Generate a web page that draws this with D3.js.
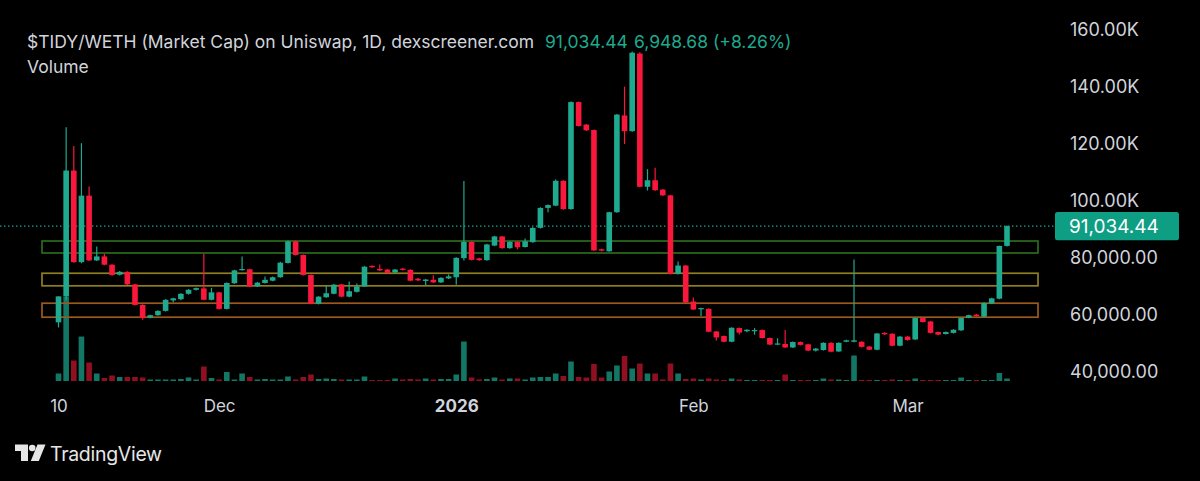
<!DOCTYPE html>
<html>
<head>
<meta charset="utf-8">
<script src="https://cdn.jsdelivr.net/npm/d3@7"></script>
<style>
  html, body { margin: 0; padding: 0; background: #000; }
  svg { display: block; font-family: Inter, "Noto Sans", sans-serif; }
</style>
</head>
<body>
<div id="chart"></div>
<script>
//-- Data (market cap in thousands, one candle per day from 10 Nov 2025) --//
var startDay = new Date(Date.UTC(2025, 10, 10));

var opens = [
  57.3, 66.4, 110.5, 78.4, 101.7, 79.0, 80.4, 77.5, 74.0, 75.0,
  70.6, 63.4, 58.9, 59.8, 61.3, 65.0, 65.4, 67.3, 68.7, 69.2,
  65.2, 67.8, 62.0, 71.0, 75.6, 75.9, 69.9, 71.1, 71.9, 73.1,
  78.1, 85.7, 80.9, 73.9, 63.8, 66.1, 67.3, 70.6, 66.3, 68.0,
  69.9, 77.1, 76.0, 75.8, 74.8, 76.1, 75.7, 72.6, 71.8, 72.2,
  71.3, 72.7, 73.1, 79.8, 85.5, 79.7, 79.1, 84.2, 87.4, 83.3,
  85.5, 83.7, 85.4, 90.4, 97.4, 98.2, 106.9, 97.0, 134.5, 126.6,
  124.7, 82.9, 82.2, 95.9, 129.8, 124.3, 151.5, 104.8, 107.1, 103.8,
  101.8, 74.3, 77.2, 64.6, 61.9, 62.0, 54.1, 52.5, 50.5, 55.3,
  54.2, 54.2, 54.6, 51.8, 49.5, 49.7, 48.5, 50.4, 49.6, 47.4,
  47.6, 50.1, 47.1, 50.5, 50.5, 50.5, 48.8, 47.7, 53.6, 53.3,
  49.1, 52.3, 51.3, 58.8, 57.6, 53.9, 53.2, 53.6, 54.5, 58.9,
  60.0, 59.3, 63.9, 65.6, 84.086
];
var highs = [
  66.4, 125.7, 119.1, 120.1, 104.9, 83.9, 81.3, 77.7, 75.3, 75.2,
  70.8, 63.6, 60.0, 61.5, 65.4, 65.9, 67.5, 69.0, 69.5, 81.3,
  69.4, 68.0, 71.3, 75.7, 80.4, 76.1, 71.4, 73.4, 73.4, 78.5,
  86.0, 86.0, 81.1, 74.1, 66.5, 70.1, 70.7, 70.8, 71.6, 70.9,
  77.0, 77.2, 77.6, 76.0, 76.0, 76.3, 75.9, 72.8, 72.5, 73.8,
  73.1, 74.1, 80.1, 106.8, 85.7, 79.9, 84.8, 87.6, 87.6, 85.7,
  85.7, 86.7, 90.6, 97.6, 98.6, 107.4, 107.1, 134.7, 134.7, 126.8,
  124.9, 83.1, 96.1, 130.3, 139.9, 152.2, 152.0, 111.0, 111.5, 104.0,
  102.0, 78.6, 77.4, 66.0, 62.4, 62.2, 54.3, 52.7, 55.6, 55.5,
  54.9, 55.3, 54.8, 52.0, 51.7, 54.6, 50.6, 50.6, 49.8, 48.3,
  50.3, 50.3, 50.3, 51.2, 79.3, 50.7, 49.0, 53.6, 53.8, 53.5,
  52.5, 52.5, 59.0, 59.0, 57.8, 54.1, 54.1, 54.9, 59.0, 60.0,
  60.2, 64.3, 65.9, 84.1, 91.2
];
var lows = [
  55.5, 65.0, 78.2, 78.0, 78.8, 78.8, 77.3, 73.6, 73.7, 70.4,
  63.2, 58.2, 58.7, 59.6, 61.1, 64.3, 65.0, 67.0, 68.5, 65.0,
  65.0, 61.8, 61.8, 70.8, 75.4, 69.6, 69.7, 70.9, 71.7, 72.9,
  77.9, 80.7, 73.7, 63.6, 63.6, 65.9, 67.1, 66.1, 66.1, 67.8,
  69.7, 76.4, 75.3, 74.4, 74.6, 75.5, 71.7, 71.8, 70.2, 71.1,
  71.1, 72.5, 70.5, 79.0, 79.0, 78.9, 78.9, 84.0, 83.1, 83.1,
  82.9, 83.5, 85.2, 90.2, 95.9, 98.0, 96.8, 96.8, 125.9, 124.4,
  82.3, 82.2, 82.0, 95.7, 119.8, 124.1, 104.6, 103.5, 103.4, 101.6,
  74.1, 74.1, 64.1, 61.6, 59.4, 53.8, 50.9, 50.3, 50.3, 53.0,
  53.8, 53.0, 51.6, 49.3, 49.3, 48.3, 48.3, 49.2, 47.2, 47.1,
  47.4, 46.8, 46.9, 50.3, 50.3, 48.5, 47.5, 47.5, 52.9, 48.9,
  48.9, 50.9, 51.1, 57.2, 53.4, 52.8, 53.0, 53.4, 54.3, 58.7,
  59.3, 59.1, 63.7, 65.4, 83.9
];
var closes = [
  66.4, 110.5, 78.4, 101.7, 79.0, 80.4, 77.5, 73.9, 75.0, 70.6,
  63.4, 58.8, 59.8, 61.3, 65.2, 65.7, 67.3, 68.7, 69.3, 65.2,
  67.8, 62.0, 71.1, 75.5, 76.0, 69.8, 71.2, 72.2, 73.1, 78.2,
  85.7, 80.9, 73.9, 63.8, 66.3, 67.5, 70.5, 66.3, 68.2, 69.9,
  76.8, 76.6, 75.5, 74.6, 75.8, 75.7, 71.9, 72.0, 72.3, 71.3,
  72.9, 73.4, 79.9, 85.5, 79.2, 79.1, 84.6, 87.4, 83.3, 85.5,
  83.6, 85.7, 90.4, 97.4, 98.4, 106.9, 97.0, 134.5, 126.1, 124.6,
  82.5, 82.4, 95.9, 130.1, 124.3, 151.8, 104.8, 107.1, 103.6, 101.8,
  74.3, 77.2, 64.3, 61.8, 62.3, 54.0, 52.0, 50.5, 55.4, 53.7,
  54.7, 54.6, 51.8, 49.5, 49.9, 48.5, 50.4, 49.4, 47.4, 48.1,
  50.1, 47.0, 50.1, 51.0, 51.0, 48.7, 47.7, 53.4, 53.1, 49.1,
  52.3, 51.1, 58.8, 57.4, 53.6, 53.0, 53.9, 54.7, 58.8, 59.8,
  59.5, 64.1, 65.7, 84.086, 91.034
];
var volumes = [
  15, 169, 41, 89, 37, 15, 6, 11, 8, 8,
  8, 7, 3, 3, 3, 3, 4, 7, 3, 29,
  6, 3, 18, 3, 15, 8, 3, 4, 3, 3,
  9, 3, 8, 13, 4, 5, 4, 3, 3, 3,
  9, 2, 2, 2, 5, 3, 4, 3, 5, 3,
  4, 4, 13, 79, 7, 3, 4, 7, 3, 5,
  5, 3, 7, 8, 8, 15, 10, 39, 8, 7,
  34, 7, 19, 31, 50, 25, 35, 15, 15, 3,
  35, 15, 4, 5, 3, 5, 3, 2, 5, 3,
  2, 2, 2, 2, 2, 13, 2, 2, 2, 2,
  5, 3, 3, 2, 51, 2, 2, 2, 2, 3,
  2, 2, 5, 2, 2, 2, 2, 2, 7, 2,
  2, 2, 2, 16, 5
];

// zones drawn on the chart [top, bottom] in thousands
var zoneNames = ["green", "yellow", "orange"];
var zoneTops = [85.8, 74.5, 64.0];
var zoneBottoms = [81.6, 70.1, 59.1];
var zoneColors = ["#2b6b1e", "#8f7f22", "#9a5a1e"];

var yTicks = [40, 60, 80, 100, 120, 140, 160];
var xTickDates = [new Date(Date.UTC(2025, 10, 10)), new Date(Date.UTC(2025, 11, 1)),
                  new Date(Date.UTC(2026, 0, 1)), new Date(Date.UTC(2026, 1, 1)),
                  new Date(Date.UTC(2026, 2, 1))];
var xTickLabels = ["10", "Dec", "2026", "Feb", "Mar"];

var lastPrice = 91034.44, lastChange = "6,948.68 (+8.26%)";

var upColor = "#1fa98e", downColor = "#f9173b",
    upVol = "#137766", downVol = "#900f20",
    textColor = "#d1d4dc";

//-- SVG --//
var width = 1200, height = 481;
var svg = d3.select("#chart").append("svg")
  .attr("width", width)
  .attr("height", height)
  .style("background", "#000");

var days = d3.utcDay.range(startDay, d3.utcDay.offset(startDay, closes.length));
var data = days.map(function(d, i) {
  return {date: d, o: opens[i], h: highs[i], l: lows[i], c: closes[i], v: volumes[i]};
});

//-- Scales --//
var x = d3.scaleUtc()
  .domain([days[0], days[days.length - 1]])
  .range([58.5, 1007]);
var y = d3.scaleLinear().domain([40, 160]).range([371.7, 29.3]);
var yVol = d3.scaleLinear().domain([0, d3.max(volumes)]).range([381, 296.6]);
var bodyW = 5.6;

//-- Volume --//
svg.append("g").selectAll("rect")
  .data(data).enter().append("rect")
  .attr("x", function(d) { return x(d.date) - bodyW / 2; })
  .attr("width", bodyW)
  .attr("y", function(d) { return yVol(d.v); })
  .attr("height", function(d) { return yVol(0) - yVol(d.v); })
  .attr("fill", function(d) { return d.c >= d.o ? upVol : downVol; });

//-- Zones --//
svg.append("g").selectAll("rect")
  .data(zoneNames).enter().append("rect")
  .attr("x", 42)
  .attr("width", 996)
  .attr("y", function(d, i) { return y(zoneTops[i]); })
  .attr("height", function(d, i) { return y(zoneBottoms[i]) - y(zoneTops[i]); })
  .attr("fill", "none")
  .attr("stroke", function(d, i) { return zoneColors[i]; })
  .attr("stroke-width", 1.7);

//-- Last price line --//
svg.append("line")
  .attr("x1", 0).attr("x2", 1055)
  .attr("y1", y(lastPrice / 1000)).attr("y2", y(lastPrice / 1000))
  .attr("stroke", upColor)
  .attr("stroke-width", 1.4)
  .attr("stroke-dasharray", "1.4,2.6");

//-- Candles --//
var candles = svg.append("g").selectAll("g")
  .data(data).enter().append("g");
candles.append("line")
  .attr("x1", function(d) { return x(d.date); })
  .attr("x2", function(d) { return x(d.date); })
  .attr("y1", function(d) { return y(d.h); })
  .attr("y2", function(d) { return y(d.l); })
  .attr("stroke", function(d) { return d.c >= d.o ? upColor : downColor; })
  .attr("stroke-width", 1.2);
candles.append("rect")
  .attr("x", function(d) { return x(d.date) - bodyW / 2; })
  .attr("width", bodyW)
  .attr("y", function(d) { return y(Math.max(d.o, d.c)); })
  .attr("height", function(d) { return Math.max(1.2, Math.abs(y(d.o) - y(d.c))); })
  .attr("fill", function(d) { return d.c >= d.o ? upColor : downColor; });

//-- Axes --//
var fmtK = d3.format(".2f"), fmtFull = d3.format(",.2f");
var yAxis = d3.axisRight(y)
  .tickValues(yTicks)
  .tickSize(0)
  .tickPadding(0)
  .tickFormat(function(v) { return v >= 100 ? fmtK(v) + "K" : fmtFull(v * 1000); });
var gy = svg.append("g")
  .attr("transform", "translate(1070,0)")
  .call(yAxis);
gy.select(".domain").remove();
gy.selectAll("text")
  .attr("fill", textColor)
  .style("font-size", "18px")
  .style("font-family", "Inter, sans-serif");

var xAxis = d3.axisBottom(x)
  .tickValues(xTickDates)
  .tickSize(0)
  .tickPadding(0)
  .tickFormat(function(d, i) { return xTickLabels[i]; });
var gx = svg.append("g")
  .attr("transform", "translate(0,400)")
  .call(xAxis);
gx.select(".domain").remove();
gx.selectAll("text")
  .attr("fill", textColor)
  .style("font-size", "17px")
  .style("font-family", "Inter, sans-serif")
  .style("font-weight", function(d, i) { return xTickLabels[i] === "2026" ? 700 : 400; });

//-- Last price label --//
var py = y(lastPrice / 1000);
svg.append("rect")
  .attr("x", 1055).attr("y", py - 14.2)
  .attr("width", 124).attr("height", 28.4)
  .attr("rx", 2.5)
  .attr("fill", "#0e9e83");
svg.append("text")
  .attr("x", 1069).attr("y", py)
  .attr("dy", "0.35em")
  .attr("fill", "#fff")
  .style("font-size", "19px")
  .text(fmtFull(lastPrice));

//-- Header --//
svg.append("text")
  .attr("x", 27).attr("y", 48.3)
  .attr("fill", textColor)
  .style("font-size", "17.5px")
  .text("$TIDY/WETH (Market Cap) on Uniswap, 1D, dexscreener.com");
svg.append("text")
  .attr("x", 545).attr("y", 48.3)
  .attr("fill", upColor)
  .style("font-size", "17.5px")
  .text(fmtFull(lastPrice));
svg.append("text")
  .attr("x", 634).attr("y", 48.3)
  .attr("fill", upColor)
  .style("font-size", "17.5px")
  .text(lastChange);
svg.append("text")
  .attr("x", 27).attr("y", 73.3)
  .attr("fill", textColor)
  .style("font-size", "17.5px")
  .text("Volume");

//-- TradingView mark --//
var logo = svg.append("g").attr("fill", "#e6e6e6");
logo.append("path").attr("d", "M15,444.5 H28 V461 H21 V451 H15 Z");
logo.append("circle").attr("cx", 32.2).attr("cy", 448).attr("r", 3.3);
logo.append("path").attr("d", "M37.5,444.5 H45.5 L38.8,461 H30.8 Z");
svg.append("text")
  .attr("x", 50).attr("y", 461)
  .attr("fill", "#e6e6e6")
  .style("font-size", "19.5px")
  .style("letter-spacing", "-0.3px")
  .text("TradingView");
</script>
</body>
</html>
